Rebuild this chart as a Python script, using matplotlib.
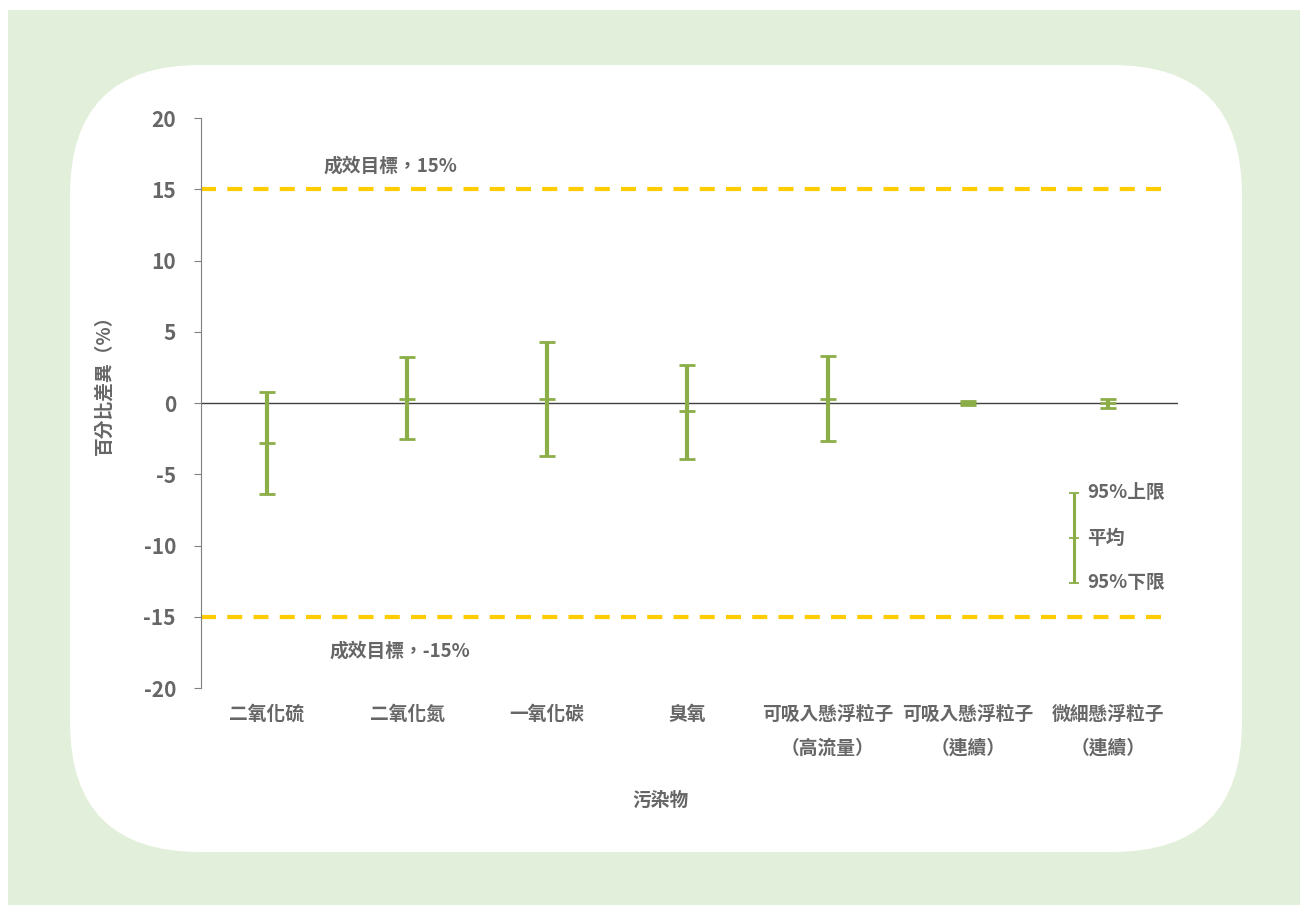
import matplotlib
matplotlib.use("Agg")
import matplotlib.pyplot as plt
from matplotlib.patches import FancyBboxPatch, Rectangle

plt.rcParams['font.family'] = ['Noto Sans CJK TC', 'DejaVu Sans']
plt.rcParams['font.weight'] = 'bold'
plt.rcParams['axes.labelweight'] = 'bold'
plt.rcParams['axes.unicode_minus'] = False

# data
categories = ['二氧化硫', '二氧化氮', '一氧化碳', '臭氧',
              '可吸入懸浮粒子\n（高流量）', '可吸入懸浮粒子\n（連續）', '微細懸浮粒子\n（連續）']
upper = [0.8, 3.2, 4.3, 2.7, 3.3, 0.15, 0.3]
mean = [-2.8, 0.3, 0.3, -0.55, 0.3, 0.0, 0.0]
lower = [-6.4, -2.5, -3.7, -3.9, -2.7, -0.15, -0.35]
target = 15

green = '#8BAE48'
gold = '#FFCC00'
grey = '#666666'

W, H = 1308, 905
fig = plt.figure(figsize=(W / 100, H / 100), dpi=100)

# background panel
bg = fig.add_axes([0, 0, 1, 1], zorder=-1)
bg.set_xlim(0, W)
bg.set_ylim(H, 0)
bg.axis('off')
bg.add_patch(Rectangle((8, 10), 1292, 895, color='#E2EFDA', lw=0))
bg.add_patch(FancyBboxPatch((70 + 130, 65 + 130), 1172 - 260, 787 - 260,
                            boxstyle='round,pad=130', fc='white', ec='none'))

ax = fig.add_axes([201 / W, 1 - 688 / H, 977 / W, 570 / H])
ax.set_facecolor('none')
x = list(range(len(categories)))

err_lo = [m - l for m, l in zip(mean, lower)]
err_hi = [u - m for m, u in zip(mean, upper)]
ax.errorbar(x, mean, yerr=[err_lo, err_hi], fmt='_', color=green, ms=11, mew=2,
            elinewidth=3, capsize=5.5, capthick=2.2, zorder=3)

ax.axhline(0, color='#404040', lw=1, zorder=2)
ax.plot([-0.47, 6.4], [target, target], color=gold, lw=3, dashes=(3.6, 2.7))
ax.plot([-0.47, 6.4], [-target, -target], color=gold, lw=3, dashes=(3.6, 2.7))
ax.text(0.88, 16.6, '成效目標，15%', ha='center', va='center', fontsize=13.5, color=grey)
ax.text(0.95, -17.4, '成效目標，-15%', ha='center', va='center', fontsize=13.5, color=grey)

# legend key
lx = 5.76
ax.errorbar([lx], [-9.5], yerr=[[3.1], [3.2]], fmt='_', color=green, ms=7, mew=1.3,
            elinewidth=2.2, capsize=3.5, capthick=1.5)
ax.text(lx + 0.09, -6.3, '95%上限', va='center', fontsize=13.5, color=grey)
ax.text(lx + 0.09, -9.5, '平均', va='center', fontsize=13.5, color=grey)
ax.text(lx + 0.09, -12.6, '95%下限', va='center', fontsize=13.5, color=grey)

ax.set_xlim(-0.47, 6.5)
ax.set_ylim(-20, 20)
ax.set_yticks(range(-20, 21, 5))
ax.set_xticks(x)
ax.set_xticklabels(categories, linespacing=2.0, va='top')
ax.tick_params(axis='x', length=0, pad=12, labelsize=13.5, colors=grey)
ax.tick_params(axis='y', length=5, width=0.8, color='#808080', pad=13,
               labelsize=15, labelcolor=grey)
for s in ['top', 'right', 'bottom']:
    ax.spines[s].set_visible(False)
ax.spines['left'].set_color('#808080')
ax.spines['left'].set_linewidth(0.8)

ax.set_ylabel('百分比差異（%）', fontsize=13.5, color=grey)
ax.yaxis.set_label_coords(-0.09, 0.54)
ax.set_xlabel('污染物', fontsize=13.5, color=grey)
ax.xaxis.set_label_coords(0.47, -0.18)

fig.savefig('out.png', dpi=100)
